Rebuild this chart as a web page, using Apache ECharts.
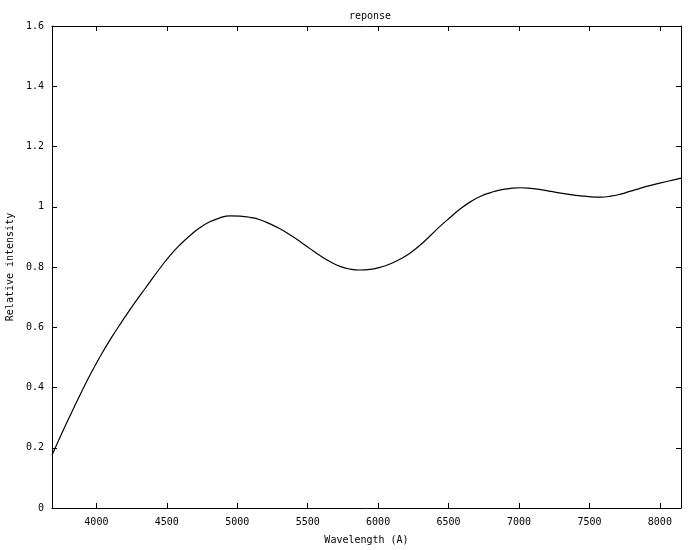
<!DOCTYPE html>
<html>
<head>
<meta charset="utf-8">
<script src="https://cdn.jsdelivr.net/npm/echarts@6/dist/echarts.min.js"></script>
<style>html,body{margin:0;padding:0;background:#fff}#c{width:700px;height:550px}</style>
</head>
<body>
<div id="c"></div>
<script>
const wavelengths = [3685, 3754, 3825, 3896, 3967, 4038, 4109, 4180, 4251, 4322, 4379, 4450, 4521, 4592, 4663, 4734, 4805, 4876, 4947, 5019, 5090, 5161, 5232, 5303, 5374, 5445, 5516, 5587, 5658, 5729, 5800, 5871, 5942, 6013, 6084, 6155, 6226, 6297, 6368, 6439, 6515, 6586, 6657, 6728, 6799, 6870, 6941, 7012, 7083, 7154, 7225, 7296, 7367, 7438, 7509, 7580, 7651, 7722, 7793, 7864, 7935, 8006, 8077, 8150];
const intensity = [0.175, 0.247, 0.318, 0.387, 0.452, 0.512, 0.567, 0.618, 0.667, 0.713, 0.750, 0.795, 0.837, 0.873, 0.904, 0.930, 0.950, 0.963, 0.970, 0.969, 0.965, 0.957, 0.943, 0.927, 0.907, 0.885, 0.861, 0.838, 0.818, 0.802, 0.793, 0.790, 0.792, 0.799, 0.810, 0.826, 0.846, 0.872, 0.903, 0.935, 0.966, 0.994, 1.017, 1.035, 1.047, 1.056, 1.061, 1.063, 1.061, 1.057, 1.051, 1.045, 1.040, 1.036, 1.033, 1.032, 1.035, 1.042, 1.052, 1.062, 1.071, 1.079, 1.087, 1.095];
const xTicks = [4000, 4500, 5000, 5500, 6000, 6500, 7000, 7500, 8000];
const yTicks = [0, 0.2, 0.4, 0.6, 0.8, 1, 1.2, 1.4, 1.6];
const titleText = 'reponse';
const xName = 'Wavelength (A)';
const yName = 'Relative intensity';

const font = 'DejaVu Sans Mono';
const fs = 10;
const chart = echarts.init(document.getElementById('c'), null, {renderer: 'canvas'});
const axisLine = {show: true, onZero: false, lineStyle: {color: '#000', width: 1}};
const tick = {show: true, inside: true, length: 5, lineStyle: {color: '#000', width: 1}};
chart.setOption({
  animation: false,
  backgroundColor: '#fff',
  title: {text: titleText, left: 344, top: 6,
    textStyle: {fontFamily: font, fontSize: fs, fontWeight: 'normal', color: '#000'}},
  grid: {left: 52, right: 19, top: 26, bottom: 42, containLabel: false, outerBoundsMode: 'none'},
  xAxis: [{
    type: 'value', min: 3685, max: 8150, position: 'bottom',
    name: xName, nameLocation: 'middle', nameGap: 27,
    nameTextStyle: {fontFamily: font, fontSize: fs, color: '#000'},
    axisLine: axisLine,
    axisTick: Object.assign({customValues: xTicks}, tick),
    axisLabel: {customValues: xTicks, formatter: v => String(v), fontFamily: font, fontSize: fs, color: '#000', margin: 9},
    splitLine: {show: false}
  }, {
    type: 'value', min: 3685, max: 8150, position: 'top',
    axisLine: axisLine,
    axisTick: Object.assign({customValues: xTicks}, tick),
    axisLabel: {show: false, customValues: xTicks},
    splitLine: {show: false}
  }],
  yAxis: [{
    type: 'value', min: 0, max: 1.6, interval: 0.2, position: 'left',
    name: yName, nameLocation: 'middle', nameGap: 35, nameRotate: 90,
    nameTextStyle: {fontFamily: font, fontSize: fs, color: '#000'},
    axisLine: axisLine,
    axisTick: Object.assign({customValues: yTicks}, tick),
    axisLabel: {customValues: yTicks, formatter: v => String(v), fontFamily: font, fontSize: fs, color: '#000', margin: 8},
    splitLine: {show: false}
  }, {
    type: 'value', min: 0, max: 1.6, interval: 0.2, position: 'right',
    axisLine: axisLine,
    axisTick: Object.assign({customValues: yTicks}, tick),
    axisLabel: {show: false},
    splitLine: {show: false}
  }],
  series: [{
    type: 'line',
    data: wavelengths.map((w, i) => [w, intensity[i]]),
    smooth: 0.5,
    showSymbol: false,
    lineStyle: {color: '#000', width: 1.2},
    clip: true
  }]
});
</script>
</body>
</html>
